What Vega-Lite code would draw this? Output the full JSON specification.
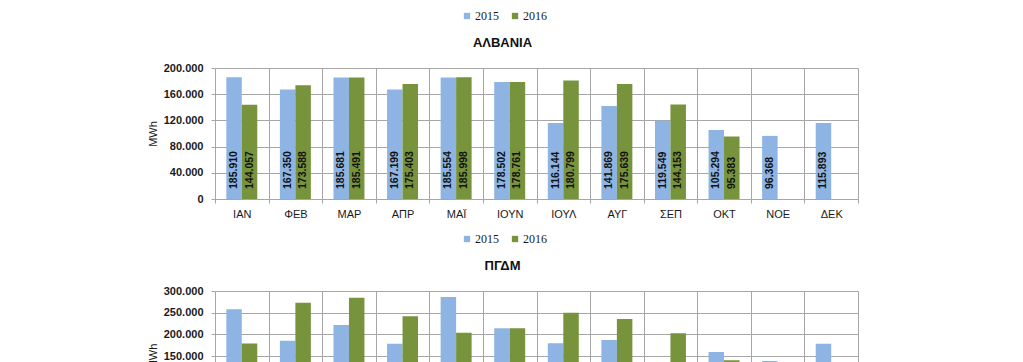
{
  "$schema": "https://vega.github.io/schema/vega-lite/v6.json",
  "background": "white",
  "padding": {"left": 147, "top": 10, "right": 20, "bottom": 5},
  "bounds": "flush",
  "spacing": 92,
  "config": {
    "locale": {"number": {"decimal": ",", "thousands": ".", "grouping": [3], "currency": ["", "€"]}},
    "view": {"stroke": null},
    "font": "Liberation Sans"
  },
  "data": {
    "values": [
      {"c": "ΑΛΒΑΝΙΑ", "m": "ΙΑΝ", "y": "2015", "v": 185910},
      {"c": "ΑΛΒΑΝΙΑ", "m": "ΙΑΝ", "y": "2016", "v": 144057},
      {"c": "ΑΛΒΑΝΙΑ", "m": "ΦΕΒ", "y": "2015", "v": 167350},
      {"c": "ΑΛΒΑΝΙΑ", "m": "ΦΕΒ", "y": "2016", "v": 173588},
      {"c": "ΑΛΒΑΝΙΑ", "m": "ΜΑΡ", "y": "2015", "v": 185681},
      {"c": "ΑΛΒΑΝΙΑ", "m": "ΜΑΡ", "y": "2016", "v": 185491},
      {"c": "ΑΛΒΑΝΙΑ", "m": "ΑΠΡ", "y": "2015", "v": 167199},
      {"c": "ΑΛΒΑΝΙΑ", "m": "ΑΠΡ", "y": "2016", "v": 175403},
      {"c": "ΑΛΒΑΝΙΑ", "m": "ΜΑΪ", "y": "2015", "v": 185554},
      {"c": "ΑΛΒΑΝΙΑ", "m": "ΜΑΪ", "y": "2016", "v": 185998},
      {"c": "ΑΛΒΑΝΙΑ", "m": "ΙΟΥΝ", "y": "2015", "v": 178502},
      {"c": "ΑΛΒΑΝΙΑ", "m": "ΙΟΥΝ", "y": "2016", "v": 178761},
      {"c": "ΑΛΒΑΝΙΑ", "m": "ΙΟΥΛ", "y": "2015", "v": 116144},
      {"c": "ΑΛΒΑΝΙΑ", "m": "ΙΟΥΛ", "y": "2016", "v": 180799},
      {"c": "ΑΛΒΑΝΙΑ", "m": "ΑΥΓ", "y": "2015", "v": 141869},
      {"c": "ΑΛΒΑΝΙΑ", "m": "ΑΥΓ", "y": "2016", "v": 175639},
      {"c": "ΑΛΒΑΝΙΑ", "m": "ΣΕΠ", "y": "2015", "v": 119549},
      {"c": "ΑΛΒΑΝΙΑ", "m": "ΣΕΠ", "y": "2016", "v": 144153},
      {"c": "ΑΛΒΑΝΙΑ", "m": "ΟΚΤ", "y": "2015", "v": 105294},
      {"c": "ΑΛΒΑΝΙΑ", "m": "ΟΚΤ", "y": "2016", "v": 95383},
      {"c": "ΑΛΒΑΝΙΑ", "m": "ΝΟΕ", "y": "2015", "v": 96368},
      {"c": "ΑΛΒΑΝΙΑ", "m": "ΔΕΚ", "y": "2015", "v": 115893},
      {"c": "ΠΓΔΜ", "m": "ΙΑΝ", "y": "2015", "v": 258000},
      {"c": "ΠΓΔΜ", "m": "ΙΑΝ", "y": "2016", "v": 179000},
      {"c": "ΠΓΔΜ", "m": "ΦΕΒ", "y": "2015", "v": 185000},
      {"c": "ΠΓΔΜ", "m": "ΦΕΒ", "y": "2016", "v": 273000},
      {"c": "ΠΓΔΜ", "m": "ΜΑΡ", "y": "2015", "v": 221500},
      {"c": "ΠΓΔΜ", "m": "ΜΑΡ", "y": "2016", "v": 284600},
      {"c": "ΠΓΔΜ", "m": "ΑΠΡ", "y": "2015", "v": 178500},
      {"c": "ΠΓΔΜ", "m": "ΑΠΡ", "y": "2016", "v": 241500},
      {"c": "ΠΓΔΜ", "m": "ΜΑΪ", "y": "2015", "v": 286000},
      {"c": "ΠΓΔΜ", "m": "ΜΑΪ", "y": "2016", "v": 203800},
      {"c": "ΠΓΔΜ", "m": "ΙΟΥΝ", "y": "2015", "v": 213800},
      {"c": "ΠΓΔΜ", "m": "ΙΟΥΝ", "y": "2016", "v": 214000},
      {"c": "ΠΓΔΜ", "m": "ΙΟΥΛ", "y": "2015", "v": 179200},
      {"c": "ΠΓΔΜ", "m": "ΙΟΥΛ", "y": "2016", "v": 250000},
      {"c": "ΠΓΔΜ", "m": "ΑΥΓ", "y": "2015", "v": 186900},
      {"c": "ΠΓΔΜ", "m": "ΑΥΓ", "y": "2016", "v": 235400},
      {"c": "ΠΓΔΜ", "m": "ΣΕΠ", "y": "2015", "v": 120000},
      {"c": "ΠΓΔΜ", "m": "ΣΕΠ", "y": "2016", "v": 202300},
      {"c": "ΠΓΔΜ", "m": "ΟΚΤ", "y": "2015", "v": 159200},
      {"c": "ΠΓΔΜ", "m": "ΟΚΤ", "y": "2016", "v": 140000},
      {"c": "ΠΓΔΜ", "m": "ΝΟΕ", "y": "2015", "v": 138500},
      {"c": "ΠΓΔΜ", "m": "ΔΕΚ", "y": "2015", "v": 178500}
    ]
  },
  "resolve": {"scale": {"y": "independent"}, "legend": {"color": "independent"}},
  "vconcat": [
    {
      "width": 643,
      "height": 131,
      "title": {"text": "ΑΛΒΑΝΙΑ", "anchor": "middle", "dx": -34, "offset": -40, "fontSize": 13, "fontWeight": "bold", "font": "Liberation Sans", "color": "#111"},
      "transform": [{"filter": "datum.c == 'ΑΛΒΑΝΙΑ'"}],
      "encoding": {
        "x": {"field": "m", "type": "nominal", "sort": ["ΙΑΝ","ΦΕΒ","ΜΑΡ","ΑΠΡ","ΜΑΪ","ΙΟΥΝ","ΙΟΥΛ","ΑΥΓ","ΣΕΠ","ΟΚΤ","ΝΟΕ","ΔΕΚ"],
          "scale": {"paddingInner": 0, "paddingOuter": 0},
          "axis": {"title": null, "labelAngle": 0, "tickBand": "extent", "grid": true, "gridColor": "#A6A6A6", "domainColor": "#A6A6A6", "tickColor": "#A6A6A6", "tickSize": 4, "labelPadding": 5, "labelFontSize": 11, "labelColor": "#1a1a1a", "labelFont": "Liberation Sans"}},
        "xOffset": {"field": "y", "type": "nominal", "scale": {"paddingInner": 0, "paddingOuter": 0.73}}
      },
      "layer": [
        {
          "mark": {"type": "bar"},
          "encoding": {
            "y": {"field": "v", "type": "quantitative", "scale": {"domain": [0, 200000]},
              "axis": {"title": "MWh", "values": [0, 40000, 80000, 120000, 160000, 200000], "labelOverlap": false, "format": ",.0f", "domain": false, "grid": true, "gridColor": "#A6A6A6", "tickColor": "#A6A6A6", "tickSize": 4, "labelPadding": 8, "labelFontSize": 11, "labelFontWeight": "bold", "labelColor": "#1a1a1a", "titleFontSize": 11, "titleFontWeight": "normal", "titleColor": "#1a1a1a", "titlePadding": 5}},
            "color": {"field": "y", "type": "nominal", "scale": {"domain": ["2015", "2016"], "range": ["#8DB4E2", "#77933C"]},
              "legend": {"title": null, "orient": "none", "legendX": 246, "legendY": -58, "direction": "horizontal", "symbolType": "square", "symbolSize": 40, "symbolStrokeWidth": 0, "labelFont": "Liberation Serif", "labelFontSize": 12, "labelColor": "#1a1a1a", "columnPadding": 10, "labelOffset": 2}}
          }
        },
        {
          "mark": {"type": "text", "angle": 270, "align": "left", "baseline": "middle", "dx": 10, "fontSize": 10.5, "fontWeight": "bold", "color": "#111"},
          "encoding": {
            "y": {"datum": 0, "type": "quantitative",
              "axis": {"title": "MWh", "values": [0, 40000, 80000, 120000, 160000, 200000], "labelOverlap": false, "format": ",.0f", "domain": false, "grid": true, "gridColor": "#A6A6A6", "tickColor": "#A6A6A6", "tickSize": 4, "labelPadding": 8, "labelFontSize": 11, "labelFontWeight": "bold", "labelColor": "#1a1a1a", "titleFontSize": 11, "titleFontWeight": "normal", "titleColor": "#1a1a1a", "titlePadding": 5}},
            "text": {"field": "v", "type": "quantitative", "format": ",.0f"}
          }
        }
      ]
    },
    {
      "width": 643,
      "height": 130,
      "title": {"text": "ΠΓΔΜ", "anchor": "middle", "dx": -34, "offset": -40, "fontSize": 13, "fontWeight": "bold", "font": "Liberation Sans", "color": "#111"},
      "transform": [{"filter": "datum.c == 'ΠΓΔΜ'"}],
      "encoding": {
        "x": {"field": "m", "type": "nominal", "sort": ["ΙΑΝ","ΦΕΒ","ΜΑΡ","ΑΠΡ","ΜΑΪ","ΙΟΥΝ","ΙΟΥΛ","ΑΥΓ","ΣΕΠ","ΟΚΤ","ΝΟΕ","ΔΕΚ"],
          "scale": {"paddingInner": 0, "paddingOuter": 0},
          "axis": {"title": null, "labelAngle": 0, "tickBand": "extent", "grid": true, "gridColor": "#A6A6A6", "domainColor": "#A6A6A6", "tickColor": "#A6A6A6", "tickSize": 4, "labelPadding": 5, "labelFontSize": 11, "labelColor": "#1a1a1a", "labelFont": "Liberation Sans"}},
        "xOffset": {"field": "y", "type": "nominal", "scale": {"paddingInner": 0, "paddingOuter": 0.73}}
      },
      "layer": [
        {
          "mark": {"type": "bar"},
          "encoding": {
            "y": {"field": "v", "type": "quantitative", "scale": {"domain": [0, 300000]},
              "axis": {"title": "MWh", "values": [0, 50000, 100000, 150000, 200000, 250000, 300000], "labelOverlap": false, "format": ",.0f", "domain": false, "grid": true, "gridColor": "#A6A6A6", "tickColor": "#A6A6A6", "tickSize": 4, "labelPadding": 8, "labelFontSize": 11, "labelFontWeight": "bold", "labelColor": "#1a1a1a", "titleFontSize": 11, "titleFontWeight": "normal", "titleColor": "#1a1a1a", "titlePadding": 5}},
            "color": {"field": "y", "type": "nominal", "scale": {"domain": ["2015", "2016"], "range": ["#8DB4E2", "#77933C"]},
              "legend": {"title": null, "orient": "none", "legendX": 246, "legendY": -58, "direction": "horizontal", "symbolType": "square", "symbolSize": 40, "symbolStrokeWidth": 0, "labelFont": "Liberation Serif", "labelFontSize": 12, "labelColor": "#1a1a1a", "columnPadding": 10, "labelOffset": 2}}
          }
        },
        {
          "mark": {"type": "text", "angle": 270, "align": "left", "baseline": "middle", "dx": 10, "fontSize": 10.5, "fontWeight": "bold", "color": "#111"},
          "encoding": {
            "y": {"datum": 0, "type": "quantitative",
              "axis": {"title": "MWh", "values": [0, 50000, 100000, 150000, 200000, 250000, 300000], "labelOverlap": false, "format": ",.0f", "domain": false, "grid": true, "gridColor": "#A6A6A6", "tickColor": "#A6A6A6", "tickSize": 4, "labelPadding": 8, "labelFontSize": 11, "labelFontWeight": "bold", "labelColor": "#1a1a1a", "titleFontSize": 11, "titleFontWeight": "normal", "titleColor": "#1a1a1a", "titlePadding": 5}},
            "text": {"field": "v", "type": "quantitative", "format": ",.0f"}
          }
        }
      ]
    }
  ]
}
